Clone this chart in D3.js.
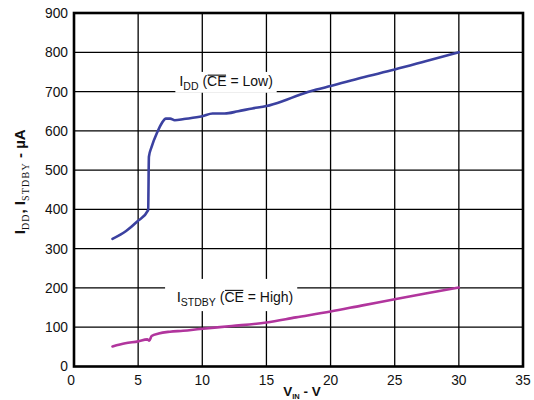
<!DOCTYPE html>
<html>
<head>
<meta charset="utf-8">
<script src="https://cdn.jsdelivr.net/npm/d3@7"></script>
<style>
  body { margin: 0; background: #fff; }
  svg { display: block; }
</style>
</head>
<body>
<svg id="chart" width="534" height="400"></svg>
<script>
// ---------------- data ----------------
const xTicks = [0, 5, 10, 15, 20, 25, 30, 35];
const yTicks = [0, 100, 200, 300, 400, 500, 600, 700, 800, 900];

// I_DD (CE = Low)
const iddVin = [3.0, 4.06, 4.93, 5.78, 5.84, 6.05, 6.5, 6.85, 7.16, 7.5, 7.85, 8.57, 10, 10.8, 11.75, 12.8, 13.9, 15, 16.3, 17.6, 18.9, 20, 22.4, 25, 27.4, 30];
const iddCur = [325, 345, 369, 398, 534, 559, 597, 620, 631, 631, 627, 630, 637, 644, 644, 650, 657, 663, 676, 692, 705, 714, 735, 756, 777, 800];

// I_STDBY (CE = High)
const stbyVin = [3.0, 4.0, 5.0, 5.71, 5.87, 6.05, 6.6, 7.48, 8.5, 9.82, 12.3, 15, 17.3, 20, 22.4, 25, 27.4, 30];
const stbyCur = [51, 59, 64, 69, 66, 77.6, 84, 88.6, 91, 95.5, 103, 112, 125, 140, 155, 171, 186, 201];

// ---------------- layout ----------------
const W = 534, H = 400;
const m = { left: 74, right: 11, top: 13, bottom: 33.5 };
const svg = d3.select("#chart");
const FONT = "'Liberation Sans', Arial, Helvetica, sans-serif";
const SERIF = "'Liberation Serif', 'Times New Roman', serif";

const x = d3.scaleLinear().domain([0, 35]).range([m.left, W - m.right]);
const y = d3.scaleLinear().domain([0, 900]).range([H - m.bottom, m.top]);

svg.append("rect").attr("width", W).attr("height", H).attr("fill", "#fff");

// grid lines
const grid = svg.append("g").attr("stroke", "#000").attr("stroke-width", 1.3);
grid.selectAll("line.v").data(xTicks.slice(1, -1)).join("line")
  .attr("x1", d => x(d)).attr("x2", d => x(d))
  .attr("y1", y(900)).attr("y2", y(0));
grid.selectAll("line.h").data(yTicks.slice(1, -1)).join("line")
  .attr("x1", x(0)).attr("x2", x(35))
  .attr("y1", d => y(d)).attr("y2", d => y(d));

// white boxes behind the curve labels (they break the grid)
svg.append("rect")
  .attr("x", x(7.9)).attr("y", y(750))
  .attr("width", x(15.8) - x(7.9)).attr("height", y(697) - y(750))
  .attr("fill", "#fff");
svg.append("rect")
  .attr("x", x(7.1)).attr("y", y(223))
  .attr("width", x(17.4) - x(7.1)).attr("height", y(141) - y(223))
  .attr("fill", "#fff");

// frame
svg.append("rect")
  .attr("x", x(0)).attr("y", y(900))
  .attr("width", x(35) - x(0)).attr("height", y(0) - y(900))
  .attr("fill", "none").attr("stroke", "#000").attr("stroke-width", 2.6);

// curves
const line = d3.line().x(d => x(d[0])).y(d => y(d[1])).curve(d3.curveMonotoneX);
svg.append("path")
  .datum(iddVin.map((v, i) => [v, iddCur[i]]))
  .attr("d", line).attr("fill", "none")
  .attr("stroke", "#3b41a0").attr("stroke-width", 2.6)
  .attr("stroke-linejoin", "round").attr("stroke-linecap", "round");
svg.append("path")
  .datum(stbyVin.map((v, i) => [v, stbyCur[i]]))
  .attr("d", line).attr("fill", "none")
  .attr("stroke", "#b1359d").attr("stroke-width", 2.6)
  .attr("stroke-linejoin", "round").attr("stroke-linecap", "round");

// tick labels
svg.append("g").selectAll("text").data(yTicks).join("text")
  .attr("x", m.left - 6).attr("y", d => y(d)).attr("dy", "0.36em")
  .attr("text-anchor", "end")
  .attr("font-family", FONT).attr("font-size", 13.8).attr("fill", "#111")
  .text(d => d);
svg.append("g").selectAll("text").data(xTicks).join("text")
  .attr("x", d => x(d) - (d === 0 ? 3 : 0)).attr("y", 384.5)
  .attr("text-anchor", "middle")
  .attr("font-family", FONT).attr("font-size", 13.8).attr("fill", "#111")
  .text(d => d);

// curve labels
function curveLabel(px, py, sub, rest) {
  const t = svg.append("text").attr("x", px).attr("y", py)
    .attr("font-family", FONT).attr("font-size", 14).attr("fill", "#111");
  t.append("tspan").attr("font-size", 15).text("I");
  t.append("tspan").attr("font-size", 10.5).attr("dy", 4).text(sub);
  t.append("tspan").attr("dy", -4).text(" (");
  const ce = t.append("tspan").text("CE");
  t.append("tspan").text(rest);
  const n = ce.node();
  const x1 = n.getStartPositionOfChar(0).x;
  const x2 = n.getEndPositionOfChar(1).x;
  svg.append("line").attr("x1", x1 + 0.5).attr("x2", x2 - 0.5)
    .attr("y1", py - 11.3).attr("y2", py - 11.3)
    .attr("stroke", "#111").attr("stroke-width", 1.1);
}
curveLabel(x(8.2), y(713), "DD", " = Low)");
curveLabel(x(8.0), y(165), "STDBY", " = High)");

// y axis title
const yt = svg.append("text")
  .attr("transform", `translate(25,${(y(0) + y(900)) / 2 - 8}) rotate(-90)`)
  .attr("text-anchor", "middle")
  .attr("font-family", FONT).attr("font-size", 15).attr("font-weight", "bold").attr("fill", "#111");
yt.append("tspan").text("I");
yt.append("tspan").attr("font-family", SERIF).attr("font-weight", "normal").attr("font-size", 10)
  .attr("letter-spacing", 1).attr("dy", 3.5).text("DD");
yt.append("tspan").attr("dy", -3.5).text(", I");
yt.append("tspan").attr("font-family", SERIF).attr("font-weight", "normal").attr("font-size", 10)
  .attr("letter-spacing", 1.2).attr("dy", 3.5).text("STDBY");
yt.append("tspan").attr("dy", -3.5).text(" - µA");

// x axis title
const xt = svg.append("text")
  .attr("x", 302).attr("y", 396).attr("text-anchor", "middle")
  .attr("font-family", FONT).attr("font-size", 13.5).attr("font-weight", "bold").attr("fill", "#111");
xt.append("tspan").text("V");
xt.append("tspan").attr("font-size", 7.5).attr("dy", 2.5).text("IN");
xt.append("tspan").attr("dy", -2.5).text("  - V");
</script>
</body>
</html>
